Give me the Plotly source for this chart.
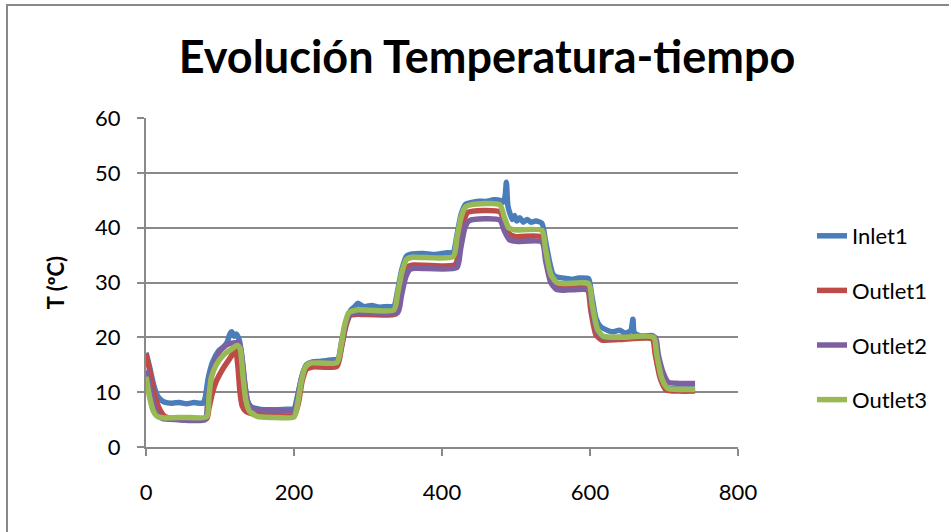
import plotly.graph_objects as go

# ---------------- data ----------------
series_names = ["Inlet1", "Outlet1", "Outlet2", "Outlet3"]
series_colors = ["#4A7EBB", "#BE4B48", "#7D60A0", "#98B954"]

inlet1_t = [0, 5, 10, 15, 20, 25, 35, 45, 55, 65, 77, 80, 84, 90, 98, 105, 110, 113, 116, 119, 122,
            126, 129, 133, 137, 142, 150, 160, 175, 190, 200, 205, 211, 217, 225, 235, 245, 255, 260,
            265, 271, 277, 282, 286, 295, 305, 315, 325, 335, 340, 346, 352, 360, 375, 390, 405, 415,
            420, 426, 432, 440, 450, 460, 470, 478, 482, 485, 487, 489, 492, 495, 498, 501, 505, 510,
            515, 520, 527, 535, 540, 545, 550, 555, 565, 575, 585, 598, 602, 608, 614, 620, 630, 640,
            647, 655, 658, 660, 670, 685, 690, 697, 705, 720, 742]
inlet1_v = [17.2, 14.5, 11.5, 9.5, 8.6, 8.2, 8.0, 8.1, 7.9, 8.1, 8.0, 9.0, 12.5, 15.5, 17.5, 18.3, 19.2,
            20.5, 21.0, 20.2, 20.6, 19.5, 17.0, 12.0, 8.5, 7.3, 7.0, 6.8, 6.8, 6.9, 7.0, 9.5, 13.0, 15.0,
            15.5, 15.6, 15.8, 15.9, 16.0, 19.0, 23.0, 25.0, 25.6, 26.2, 25.6, 25.8, 25.5, 25.6, 25.7,
            28.5, 32.5, 34.8, 35.2, 35.3, 35.1, 35.4, 35.5, 38.5, 42.5, 44.3, 44.6, 44.8, 44.8, 45.1,
            45.0, 44.6, 45.5, 48.3, 44.0, 42.5, 41.5, 42.2, 41.2, 41.8, 41.0, 41.5, 41.0, 41.2, 40.8,
            37.5, 34.0, 31.5, 31.0, 30.8, 30.6, 30.8, 30.7, 28.0, 23.5, 22.0, 21.5, 21.0, 21.3, 20.8,
            21.2, 23.3, 20.8, 20.2, 20.3, 18.0, 13.0, 10.8, 10.6, 10.6]

outlet1_t = [0, 5, 10, 15, 20, 25, 35, 82, 85, 90, 95, 105, 115, 121, 124, 127, 130, 135, 145, 170, 200,
             206, 211, 217, 225, 258, 264, 270, 276, 285, 338, 343, 349, 355, 362, 418, 423, 429, 435,
             478, 484, 490, 498, 536, 541, 548, 556, 565, 596, 601, 608, 616, 640, 684, 688, 695, 703,
             720, 742]
outlet1_v = [17.0, 14.0, 10.5, 8.0, 6.5, 5.6, 5.2, 5.2, 7.0, 10.0, 12.0, 14.5, 16.5, 17.8, 15.0, 10.0,
             7.5, 6.5, 6.0, 5.8, 5.8, 8.0, 12.0, 14.2, 14.6, 14.7, 18.0, 22.0, 24.0, 24.2, 24.3, 27.5,
             31.0, 33.0, 33.2, 33.3, 37.0, 41.0, 42.8, 42.9, 41.0, 39.0, 38.4, 38.3, 35.0, 30.5, 29.0,
             28.9, 28.9, 25.0, 20.5, 19.5, 19.6, 19.7, 17.0, 12.5, 10.4, 10.2, 10.2]

outlet2_t = [0, 5, 10, 15, 22, 40, 80, 83, 87, 92, 100, 110, 120, 126, 130, 134, 138, 145, 170, 200,
             205, 210, 216, 225, 258, 264, 270, 276, 285, 340, 345, 351, 357, 365, 420, 425, 431, 437,
             478, 484, 491, 500, 535, 540, 547, 555, 565, 598, 603, 610, 618, 640, 688, 692, 699, 706,
             720, 742]
outlet2_v = [14.0, 11.0, 8.0, 6.0, 5.2, 5.0, 5.0, 8.0, 12.0, 15.0, 17.5, 18.7, 19.0, 19.0, 16.0, 11.0,
             8.0, 7.0, 6.7, 6.7, 9.0, 12.5, 14.8, 15.4, 15.5, 19.0, 22.5, 24.2, 24.5, 24.5, 27.5, 31.0,
             32.4, 32.6, 32.7, 36.0, 40.0, 41.3, 41.4, 39.5, 37.8, 37.5, 37.4, 34.0, 30.0, 28.7, 28.6,
             28.6, 25.0, 21.0, 20.0, 20.0, 20.0, 17.0, 13.5, 11.8, 11.6, 11.6]

outlet3_t = [0, 5, 10, 15, 25, 50, 82, 85, 88, 95, 105, 115, 123, 127, 131, 135, 140, 150, 170, 200,
             205, 210, 215, 222, 258, 263, 268, 274, 285, 335, 340, 346, 352, 360, 415, 420, 426, 432,
             440, 478, 484, 490, 498, 535, 540, 547, 555, 565, 598, 603, 610, 618, 640, 686, 690, 697,
             705, 720, 742]
outlet3_v = [12.8, 9.0, 6.5, 5.6, 5.3, 5.4, 5.5, 9.0, 12.5, 15.0, 16.8, 17.8, 18.5, 18.0, 13.0, 8.5,
             6.5, 5.6, 5.4, 5.5, 8.0, 12.0, 14.5, 15.3, 15.4, 18.0, 22.0, 24.5, 25.0, 25.0, 28.0, 32.0,
             34.2, 34.6, 34.7, 38.0, 42.0, 43.8, 44.2, 44.2, 42.0, 40.0, 39.6, 39.5, 36.0, 31.5, 30.0,
             29.8, 29.8, 26.0, 21.5, 20.2, 20.0, 20.0, 17.0, 12.5, 10.7, 10.5, 10.5]

x_ticks = [0, 200, 400, 600, 800]
y_ticks = [0, 10, 20, 30, 40, 50, 60]

title_text = "Evolución Temperatura-tiempo"
y_title = "T (ºC)"

# ---------------- figure ----------------
W, H = 949, 532
L, R, T, B = 146, 211, 118, 85
pw, ph = W - L - R, H - T - B
GRID = "#898989"
FONT = "Lato"

fig = go.Figure()
all_t = [inlet1_t, outlet1_t, outlet2_t, outlet3_t]
all_v = [inlet1_v, outlet1_v, outlet2_v, outlet3_v]
for i, (nm, col) in enumerate(zip(series_names, series_colors)):
    fig.add_trace(go.Scatter(
        x=all_t[i], y=all_v[i], mode="lines", name=nm, legendgroup=nm,
        line=dict(color=col, width=5.5, shape="spline", smoothing=0.6),
    ))

def px_x(p):
    return (p - L) / pw

def px_y(p):
    return (H - B - p) / ph

# outer chart frame (left and top edges visible in reference)
fig.add_shape(type="line", xref="paper", yref="paper",
              x0=px_x(7), y0=px_y(540), x1=px_x(7), y1=px_y(5),
              line=dict(color="#888888", width=2))
fig.add_shape(type="line", xref="paper", yref="paper",
              x0=px_x(6), y0=px_y(5), x1=px_x(960), y1=px_y(5),
              line=dict(color="#888888", width=2))

fig.update_layout(
    width=W, height=H,
    margin=dict(l=L, r=R, t=T, b=B),
    paper_bgcolor="white", plot_bgcolor="white",
    font=dict(family=FONT, size=22, color="black"),
    title=dict(text=title_text, x=487 / W, xanchor="center", xref="container",
               y=(H - 57) / H, yanchor="middle", yref="container",
               font=dict(family=FONT, size=45, color="black", weight="bold")),
    showlegend=True,
    legend=dict(x=px_x(812), xanchor="left", y=px_y(318), yanchor="middle",
                font=dict(family=FONT, size=22, color="black"),
                tracegroupgap=23, bgcolor="rgba(0,0,0,0)"),
    xaxis=dict(range=[0, 800], tickvals=x_ticks, ticktext=[str(v) for v in x_ticks],
               showgrid=False, zeroline=False, showline=True, linecolor=GRID, linewidth=2,
               ticks="outside", ticklen=7, tickwidth=2, tickcolor=GRID,
               ticklabelstandoff=18, tickfont=dict(family=FONT, size=22)),
    yaxis=dict(range=[0, 60], tickvals=y_ticks, ticktext=[str(v) for v in y_ticks],
               showgrid=True, gridcolor=GRID, gridwidth=2, zeroline=False,
               showline=True, linecolor=GRID, linewidth=2,
               ticks="outside", ticklen=7, tickwidth=2, tickcolor=GRID,
               ticklabelstandoff=12, tickfont=dict(family=FONT, size=22),
               title=dict(text=y_title, standoff=24,
                          font=dict(family=FONT, size=22, color="black", weight="bold"))),
)

fig.write_html("out.html")
